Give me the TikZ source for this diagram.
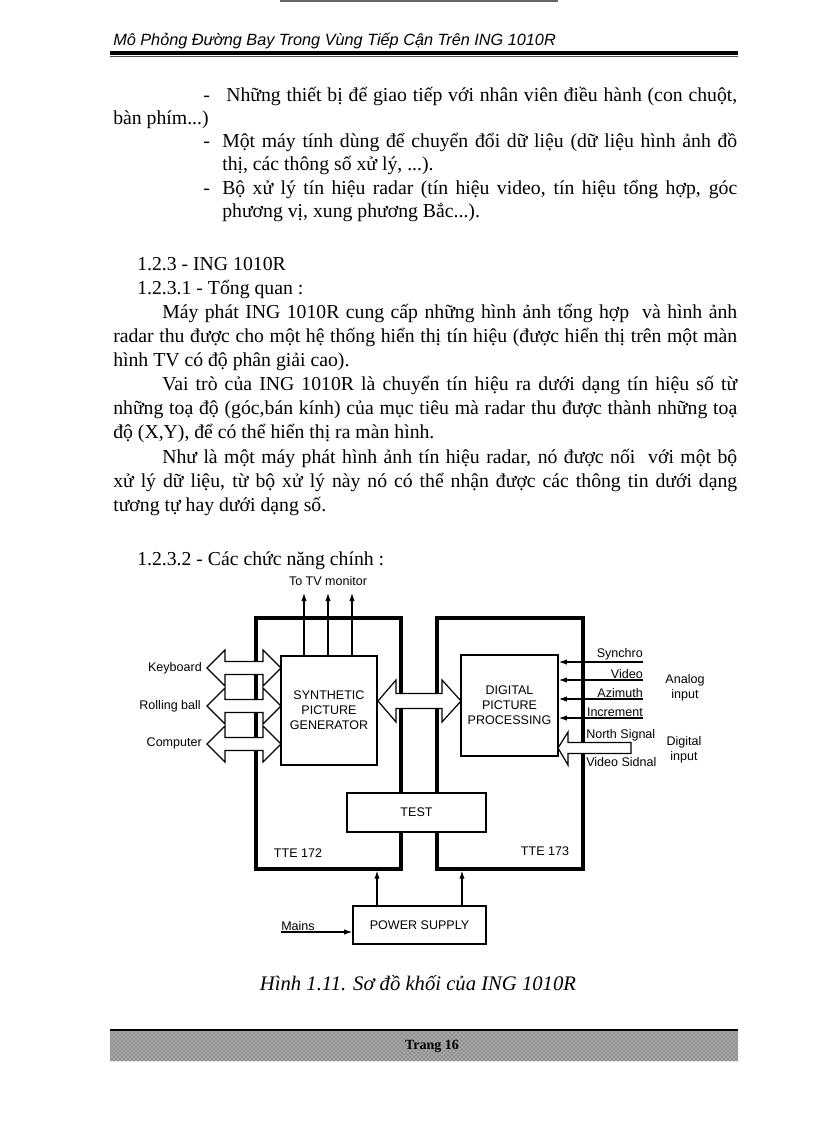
\documentclass[tikz,border=0pt]{standalone}
\usepackage{fontspec}
\setmainfont{Liberation Serif}
\setsansfont{Liberation Sans}
\usetikzlibrary{arrows.meta}
\usetikzlibrary{patterns}
\usetikzlibrary{positioning}

\tikzset{
  txt/.style={font=\fontsize{14.8}{17}\selectfont, anchor=base west, inner sep=0pt},
  lbl/.style={font=\sffamily\fontsize{9.4}{11.2}\selectfont, inner sep=0pt},
  blk/.style={draw, line width=1.2pt, fill=white, inner sep=0pt, align=center,
              font=\sffamily\fontsize{9.4}{11.25}\selectfont},
  frm/.style={draw, line width=2.6pt, inner sep=0pt},
  sig/.style={line width=0.8pt, -{Latex[length=6pt,width=4pt]}},
  bus/.style={draw, line width=0.9pt, fill=white, line join=miter}
}

\begin{document}
\begin{tikzpicture}[x=0.75pt,y=-0.75pt]
\useasboundingbox (0,0) rectangle (816,1123);

% page header
\draw[black!60,line width=1.5pt] (280,1) -- (558,1);
\node[anchor=base west,inner sep=0pt,font=\sffamily\itshape\fontsize{12.2}{14}\selectfont] (head) at (113,46) {Mô Phỏng Đường Bay Trong Vùng Tiếp Cận Trên ING 1010R};
\draw[line width=2.4pt] (110,53) -- (738,53);
\draw[black!70,line width=0.6pt] (110,56.5) -- (738,56.5);

% body text
\node[txt] (d1) at (203,102) {-};
\node[txt] (l1) at (226,102) {\makebox[383.25pt][s]{Những thiết bị để giao tiếp với nhân viên điều hành (con chuột,}};
\node[txt] (l2) at (113,125) {bàn phím...)};
\node[txt] (d3) at (203,148) {-};
\node[txt] (l3) at (222,148) {\makebox[386.25pt][s]{Một máy tính dùng để chuyển đổi dữ liệu (dữ liệu hình ảnh đồ}};
\node[txt] (l4) at (222,171) {thị, các thông số xử lý, ...).};
\node[txt] (d5) at (203,195) {-};
\node[txt] (l5) at (222,195) {\makebox[386.25pt][s]{Bộ xử lý tín hiệu radar (tín hiệu video, tín hiệu tổng hợp, góc}};
\node[txt] (l6) at (222,218) {phương vị, xung phương Bắc...).};

\node[txt] (s123) at (137,270) {1.2.3 - ING 1010R};
\node[txt] (s1231) at (137,294) {1.2.3.1 - Tổng quan :};
\node[txt] (p1a) at (162,318) {\makebox[431.25pt][s]{Máy phát ING 1010R cung cấp những hình ảnh tổng hợp\ \ và hình ảnh}};
\node[txt] (p1b) at (113,342) {\makebox[468pt][s]{radar thu được cho một hệ thống hiển thị tín hiệu (được hiển thị trên một màn}};
\node[txt] (p1c) at (113,366) {hình TV có độ phân giải cao).};
\node[txt] (p2a) at (162,390) {\makebox[431.25pt][s]{Vai trò của ING 1010R là chuyển tín hiệu ra dưới dạng tín hiệu số từ}};
\node[txt] (p2b) at (113,414) {\makebox[468pt][s]{những toạ độ (góc,bán kính) của mục tiêu mà radar thu được thành những toạ}};
\node[txt] (p2c) at (113,438) {độ (X,Y), để có thể hiển thị ra màn hình.};
\node[txt] (p3a) at (162,463) {\makebox[431.25pt][s]{Như là một máy phát hình ảnh tín hiệu radar, nó được nối\ \ với một bộ}};
\node[txt] (p3b) at (113,487) {\makebox[468pt][s]{xử lý dữ liệu, từ bộ xử lý này nó có thể nhận được các thông tin dưới dạng}};
\node[txt] (p3c) at (113,511) {tương tự hay dưới dạng số.};
\node[txt] (s1232) at (137,565) {1.2.3.2 - Các chức năng chính :};

% frames
\node[frm,minimum width=108.75pt,minimum height=188.25pt] (tte172) at (328.5,743.5) {};
\node[frm,minimum width=109.5pt,minimum height=188.25pt] (tte173) at (510,743.5) {};
\node[lbl] (tte172l) at (298,853) {TTE 172};
\node[lbl] (tte173l) at (545,851) {TTE 173};

% blocks
\node[blk,minimum width=72pt,minimum height=81.75pt] (spg) at (329,710.5) {SYNTHETIC\\PICTURE\\GENERATOR};
\node[blk,minimum width=72.75pt,minimum height=75.75pt] (dpp) at (509.5,705.5) {DIGITAL\\PICTURE\\PROCESSING};
\node[blk,minimum width=104.25pt,minimum height=29.25pt] (test) at (416.5,812.5) {TEST};
\node[blk,minimum width=99.75pt,minimum height=28.5pt] (psu) at (419.5,925) {POWER SUPPLY};

% to TV monitor
\coordinate (tv1) at (304,593);
\coordinate (tv2) at (328,593);
\coordinate (tv3) at (352,593);
\draw[sig] (tv1 |- spg.north) -- (tv1);
\draw[sig] (tv2 |- spg.north) -- (tv2);
\draw[sig] (tv3 |- spg.north) -- (tv3);
\node[lbl] (tvl) at (328,581) {To TV monitor};

% keyboard, rolling ball, computer
\draw[bus] (207,668) -- (225,650) -- (225,661.5) -- (263,661.5) -- (263,650) -- (281,668) -- (263,686) -- (263,674.5) -- (225,674.5) -- (225,686) -- cycle;
\draw[bus] (207,706) -- (225,688) -- (225,699.5) -- (263,699.5) -- (263,688) -- (281,706) -- (263,724) -- (263,712.5) -- (225,712.5) -- (225,724) -- cycle;
\draw[bus] (207,744) -- (225,726) -- (225,737.5) -- (263,737.5) -- (263,726) -- (281,744) -- (263,762) -- (263,750.5) -- (225,750.5) -- (225,762) -- cycle;
\node[lbl,anchor=east] (kbd) at (202,668) {Keyboard};
\node[lbl,anchor=east] (ball) at (201,706) {Rolling ball};
\node[lbl,anchor=east] (comp) at (202,743) {Computer};

% bus between generator and processing
\draw[bus] (378,701) -- (396,680) -- (396,693.5) -- (442,693.5) -- (442,680) -- (461,701) -- (442,722) -- (442,708.5) -- (396,708.5) -- (396,722) -- cycle;

% analog inputs
\coordinate (syn) at (643,662);
\coordinate (vid) at (643,680);
\coordinate (azi) at (643,699);
\coordinate (inc) at (643,718);
\draw[sig] (syn) -- (syn -| dpp.east);
\draw[sig] (vid) -- (vid -| dpp.east);
\draw[sig] (azi) -- (azi -| dpp.east);
\draw[sig] (inc) -- (inc -| dpp.east);
\node[lbl,anchor=south east] (synl) at ([yshift=1pt]syn) {Synchro};
\node[lbl,anchor=south east] (vidl) at ([yshift=1pt]vid) {Video};
\node[lbl,anchor=south east] (azil) at ([yshift=1pt]azi) {Azimuth};
\node[lbl,anchor=south east] (incl) at ([yshift=1pt]inc) {Increment};
\node[lbl,align=center] (anl) at (685,688) {Analog\\input};

% digital inputs
\draw[bus] (558,748) -- (568,732) -- (568,742.5) -- (631,742.5) -- (631,753.5) -- (568,753.5) -- (568,765) -- cycle;
\node[lbl,anchor=south west] (nsig) at (586,741) {North Signal};
\node[lbl,anchor=north west] (vsig) at (586,757) {Video Sidnal};
\node[lbl,align=center] (dgl) at (684,750) {Digital\\input};

% power
\coordinate (pw1) at (377,906);
\coordinate (pw2) at (462,906);
\draw[sig] (pw1) -- (pw1 |- tte172.south);
\draw[sig] (pw2) -- (pw2 |- tte173.south);
\coordinate (mains) at (281,932);
\draw[sig] (mains) -- (mains -| psu.west);
\node[lbl,anchor=south west] (mainsl) at ([yshift=1pt]mains) {Mains};

% caption
\node[anchor=base,inner sep=0pt,font=\itshape\fontsize{15.5}{18}\selectfont] (cap) at (418,990) {Hình 1.11. Sơ đồ khối của ING 1010R};

% page footer
\fill[black!35] (110,1029) rectangle (738,1061);
\fill[pattern=crosshatch dots,pattern color=black!70] (110,1029) rectangle (738,1061);
\draw[line width=2pt] (110,1030) -- (738,1030);
\node[font=\bfseries\fontsize{10.5}{12}\selectfont] (page) at (432,1046) {Trang 16};

\end{tikzpicture}
\end{document}
